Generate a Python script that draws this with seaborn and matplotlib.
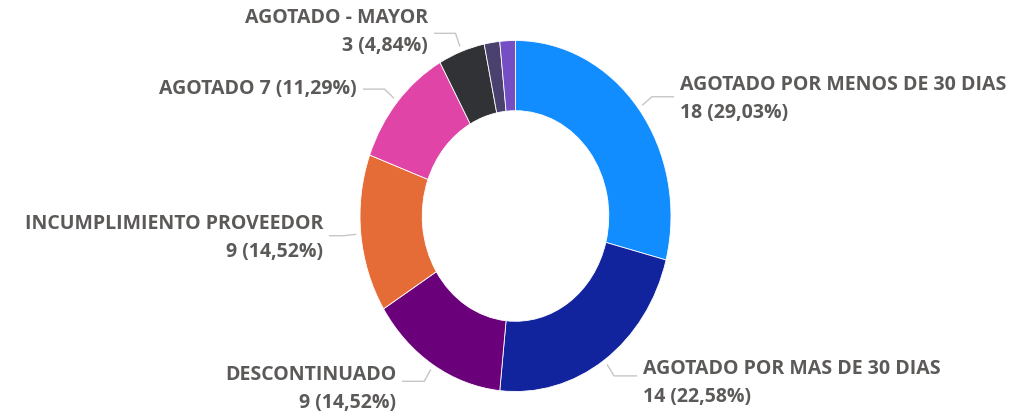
import numpy as np
import matplotlib
matplotlib.use("Agg")
import matplotlib.pyplot as plt
import seaborn as sns

# Motivos de quiebre (conteo)
categories = ["AGOTADO POR MENOS DE 30 DIAS", "AGOTADO POR MAS DE 30 DIAS", "DESCONTINUADO",
              "INCUMPLIMIENTO PROVEEDOR", "AGOTADO", "AGOTADO - MAYOR", "OTRO 1", "OTRO 2"]
counts = [18, 14, 9, 9, 7, 3, 1, 1]
colors = ["#118DFF", "#12239E", "#6B007B", "#E66C37", "#E044A7", "#313236", "#4A416F", "#744EC2"]

sns.set_theme(style="white")
plt.rcParams["font.family"] = ["Open Sans", "DejaVu Sans"]

W, H = 1017, 415
cx, cy = 515.5, 216          # centre in pixels (from top-left)
rx, ry = 155.5, 175.5        # outer semi-axes in pixels

fig = plt.figure(figsize=(W / 100, H / 100), dpi=100)
ax = fig.add_axes([0, 0, 1, 1])

ax.pie(counts, colors=sns.color_palette(colors), startangle=90, counterclock=False,
       radius=1, wedgeprops=dict(width=0.4, edgecolor="white", linewidth=0.6))
ax.set_aspect("auto")
ax.set_xlim(-cx / rx, (W - cx) / rx)
ax.set_ylim(-(H - cy) / ry, cy / ry)
ax.axis("off")


def px(x, y):
    return (x - cx) / rx, (cy - y) / ry


total = sum(counts)
pct = [c / total * 100 for c in counts]
labels = {
    0: (f"{categories[0]}\n{counts[0]} ({pct[0]:.2f}%)".replace(".", ","), "left", (680, 99)),
    1: (f"{categories[1]}\n{counts[1]} ({pct[1]:.2f}%)".replace(".", ","), "left", (643, 383)),
    2: (f"{categories[2]}\n{counts[2]} ({pct[2]:.2f}%)".replace(".", ","), "right", (396, 389)),
    3: (f"{categories[3]}\n{counts[3]} ({pct[3]:.2f}%)".replace(".", ","), "right", (323, 238)),
    4: (f"{categories[4]} {counts[4]} ({pct[4]:.2f}%)".replace(".", ","), "right", (357, 89)),
    5: (f"{categories[5]}\n{counts[5]} ({pct[5]:.2f}%)".replace(".", ","), "right", (428, 32)),
}

cum = np.cumsum([0] + counts)
for i, (txt, ha, (tx, ty)) in labels.items():
    mid = np.deg2rad(90 - (cum[i] + counts[i] / 2) / total * 360)
    x0, y0 = 1.03 * np.cos(mid), 1.03 * np.sin(mid)
    x1, y1 = 1.11 * np.cos(mid), 1.11 * np.sin(mid)
    ex, _ = px(tx + (-6 if ha == "left" else 6), ty)
    ey = y1
    ax.plot([x0, x1, ex], [y0, y1, ey], color="#C8C6C4", lw=1.0, solid_capstyle="butt")
    ax.text(*px(tx, ty), txt, ha=ha, va="center", fontsize=14, fontweight="bold",
            color="#5C5A58", linespacing=1.5, multialignment=ha)

fig.savefig("out.png", dpi=100)
